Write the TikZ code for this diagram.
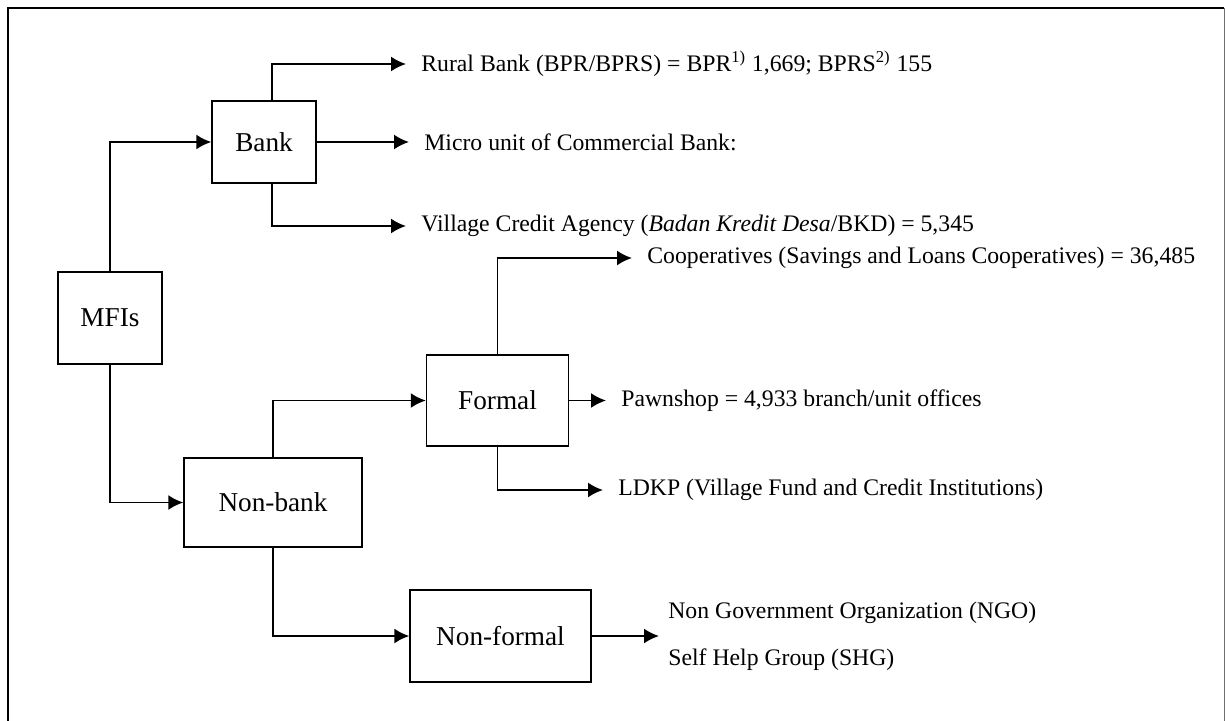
\documentclass[tikz,border=0pt]{standalone}
\usepackage{fontspec}
\setmainfont{Liberation Serif}
\usepackage{tikz}
\usetikzlibrary{positioning,arrows.meta,calc}
\definecolor{FrameGray}{HTML}{707070}

\begin{document}
\begin{tikzpicture}[box/.style={draw, line width=0.8pt, align=center,
                                 font=\fontsize{15.5}{18}\selectfont},
                    lbl/.style={anchor=west, inner xsep=0.3cm, inner ysep=0pt,
                                align=left, font=\fontsize{13.5}{16}\selectfont},
                    ar/.style={-{Latex[length=0.3cm,width=0.3cm]}, line width=1.1pt}]
  \clip (0,0) rectangle (24.52,-14.4);
  % outer frame (bottom edge runs off the page)
  \draw[line width=1.1pt] (0.16,-14.8) -- (0.16,-0.16) -- (24.48,-0.16);
  \draw[FrameGray, line width=0.5pt] (24.48,-0.16) -- (24.48,-14.8);

  % boxes
  \node[box, minimum width=2.08cm, minimum height=1.84cm] (mfi) at (2.20,-6.36)  {MFIs};
  \node[box, minimum width=2.08cm, minimum height=1.64cm] (bank) at (5.28,-2.84) {Bank};
  \node[box, minimum width=3.56cm, minimum height=1.78cm] (nb)  at (5.46,-10.05) {Non-bank};
  \node[box, minimum width=2.84cm, minimum height=1.82cm] (fm)  at (9.95,-8.01)  {Formal};
  \node[box, minimum width=3.62cm, minimum height=1.84cm] (nf)  at (10.01,-12.72) {Non-formal};

  % labels
  \node[lbl] (rb)   at (8.12,-1.28)  {Rural Bank (BPR/BPRS) = BPR\textsuperscript{1)} 1,669; BPRS\textsuperscript{2)} 155};
  \node[lbl] (mc)   at (8.18,-2.84)  {Micro unit of Commercial Bank:};
  \node[lbl] (bkd)  at (8.12,-4.52)  {Village Credit Agency (\textit{Badan Kredit Desa}/BKD) = 5,345};
  \node[lbl] (coop) at (12.64,-5.16) {Cooperatives (Savings and Loans Cooperatives) = 36,485};
  \node[lbl] (pawn) at (12.12,-8.01) {Pawnshop = 4,933 branch/unit offices};
  \node[lbl] (ldkp) at (12.06,-9.80) {LDKP (Village Fund and Credit Institutions)};
  \node[lbl, inner xsep=0.18cm, font=\fontsize{13.5}{26.7}\selectfont]
        (ngo)  at (13.18,-12.72) {Non Government Organization (NGO)\\Self Help Group (SHG)};

  % connectors
  \draw[ar] (mfi.north) |- (bank.west);
  \draw[ar] (mfi.south) |- (nb.west);
  \draw[ar] ([xshift=0.16cm]bank.north) |- (rb.west);
  \draw[ar] (bank.east) -- (mc.west);
  \draw[ar] ([xshift=0.16cm]bank.south) |- (bkd.west);
  \draw[ar] (nb.north) |- (fm.west);
  \draw[ar] (nb.south) |- (nf.west);
  \draw[ar] (fm.north) |- (coop.west);
  \draw[ar] (fm.east) -- (pawn.west);
  \draw[ar] (fm.south) |- (ldkp.west);
  \draw[ar] (nf.east) -- (ngo.west);
\end{tikzpicture}
\end{document}
